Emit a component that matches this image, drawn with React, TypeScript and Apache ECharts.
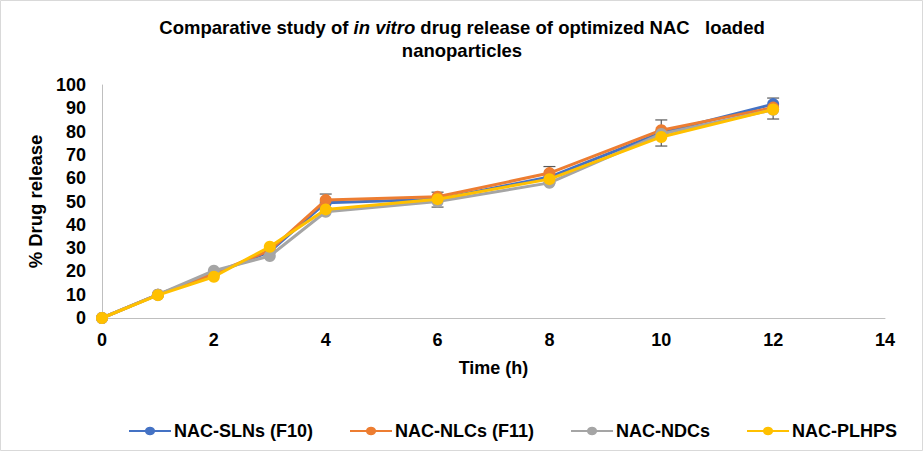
import React, { useEffect, useRef } from "react";
import * as echarts from "echarts";

const times = [0, 1, 2, 3, 4, 6, 8, 10, 12];
const seriesNames = ["NAC-SLNs (F10)", "NAC-NLCs (F11)", "NAC-NDCs", "NAC-PLHPS"];
const slns = [0, 10, 19, 28.5, 49.5, 51, 60.5, 79.5, 91.8];
const nlcs = [0, 10, 19.2, 29, 50.6, 52, 62.2, 80.6, 90.3];
const ndcs = [0, 10, 20.3, 26.6, 45.6, 50, 58, 79, 89.4];
const plhps = [0, 9.8, 17.7, 30.6, 46.6, 51, 59.6, 77.7, 89.5];
const colors = ["#4472C4", "#ED7D31", "#A5A5A5", "#FFC000"];

const errTimes = [4, 6, 8, 10, 12];
const errCenters = [50.2, 50.8, 61.5, 79.4, 89.9];
const errSD = [3, 3.2, 3.5, 5.6, 4.5];

const xTicks = { min: 0, max: 14, interval: 2 };
const yTicks = { min: 0, max: 100, interval: 10 };

export default function App() {
  const ref = useRef<HTMLDivElement>(null);
  useEffect(() => {
    if (!ref.current) return;
    const chart = echarts.init(ref.current, null, { renderer: "svg" });
    const allData = [slns, nlcs, ndcs, plhps];
    const font = "Arial, 'Liberation Sans', sans-serif";
    const lineSeries = allData.map((vals, i) => ({
      name: seriesNames[i],
      type: "line",
      data: times.map((t, j) => [t, vals[j]]),
      symbol: "circle",
      symbolSize: 12,
      showSymbol: true,
      lineStyle: { width: 3, color: colors[i] },
      itemStyle: { color: colors[i] },
      z: 3 + i,
    }));
    const errData = errTimes.map((t, i) => [t, errCenters[i] - errSD[i], errCenters[i] + errSD[i]]);
    chart.setOption({
      animation: false,
      backgroundColor: "#ffffff",
      title: {
        left: "center",
        top: 11,
        text: "{b|Comparative study of }{i|in vitro}{b| drug release of optimized NAC   loaded}\n{b|nanoparticles}",
        textStyle: {
          rich: {
            b: { fontFamily: font, fontWeight: "bold", fontSize: 18.5, color: "#000", lineHeight: 23 },
            i: { fontFamily: font, fontWeight: "bold", fontStyle: "italic", fontSize: 18.5, color: "#000", lineHeight: 23 },
          },
        },
      },
      legend: {
        bottom: 7,
        left: 124,
        itemWidth: 42,
        itemHeight: 12,
        itemGap: 37,
        data: seriesNames,
        icon: "path://M0,5.5 L16,5.5 A5.5,5.5 0 0 1 26,5.5 L42,5.5 L42,7.5 L26,7.5 A5.5,5.5 0 0 1 16,7.5 L0,7.5 Z",
        textStyle: { fontFamily: font, fontWeight: "bold", fontSize: 18, color: "#000", padding: [0, 0, 0, -2] },
      },
      grid: { left: 102, right: 39, top: 85, bottom: 134 },
      xAxis: {
        type: "value",
        min: xTicks.min,
        max: xTicks.max,
        interval: xTicks.interval,
        name: "Time (h)",
        nameLocation: "middle",
        nameGap: 41,
        nameTextStyle: { fontFamily: font, fontWeight: "bold", fontSize: 18, color: "#000" },
        axisLine: { lineStyle: { color: "#BFBFBF", width: 1 } },
        axisTick: { show: false },
        splitLine: { show: false },
        axisLabel: { fontFamily: font, fontWeight: "bold", fontSize: 18, color: "#000", margin: 13 },
      },
      yAxis: {
        type: "value",
        min: yTicks.min,
        max: yTicks.max,
        interval: yTicks.interval,
        name: "% Drug release",
        nameLocation: "middle",
        nameGap: 45,
        nameRotate: 90,
        nameTextStyle: { fontFamily: font, fontWeight: "bold", fontSize: 18.5, color: "#000" },
        axisLine: { show: true, lineStyle: { color: "#BFBFBF", width: 1 } },
        axisTick: { show: false },
        splitLine: { show: false },
        axisLabel: { fontFamily: font, fontWeight: "bold", fontSize: 18, color: "#000", margin: 16 },
      },
      series: [
        {
          type: "custom",
          name: "err",
          z: 2,
          data: errData,
          renderItem: (params: any, api: any) => {
            const x = api.value(0);
            const lo = api.coord([x, api.value(1)]);
            const hi = api.coord([x, api.value(2)]);
            const w = 6;
            const st = { stroke: "#595959", lineWidth: 1.2 };
            return {
              type: "group",
              children: [
                { type: "line", shape: { x1: lo[0], y1: lo[1], x2: hi[0], y2: hi[1] }, style: st },
                { type: "line", shape: { x1: lo[0] - w, y1: lo[1], x2: lo[0] + w, y2: lo[1] }, style: st },
                { type: "line", shape: { x1: hi[0] - w, y1: hi[1], x2: hi[0] + w, y2: hi[1] }, style: st },
              ],
            };
          },
        },
        ...lineSeries,
      ],
      graphic: [
        {
          type: "rect",
          shape: { x: 0.5, y: 0.5, width: 922, height: 450 },
          style: { fill: "none", stroke: "#D9D9D9", lineWidth: 1 },
          silent: true,
        },
      ],
    });
    return () => chart.dispose();
  }, []);
  return (
    <div
      ref={ref}
      style={{ position: "fixed", left: 0, top: 0, width: 924, height: 452 }}
    />
  );
}
